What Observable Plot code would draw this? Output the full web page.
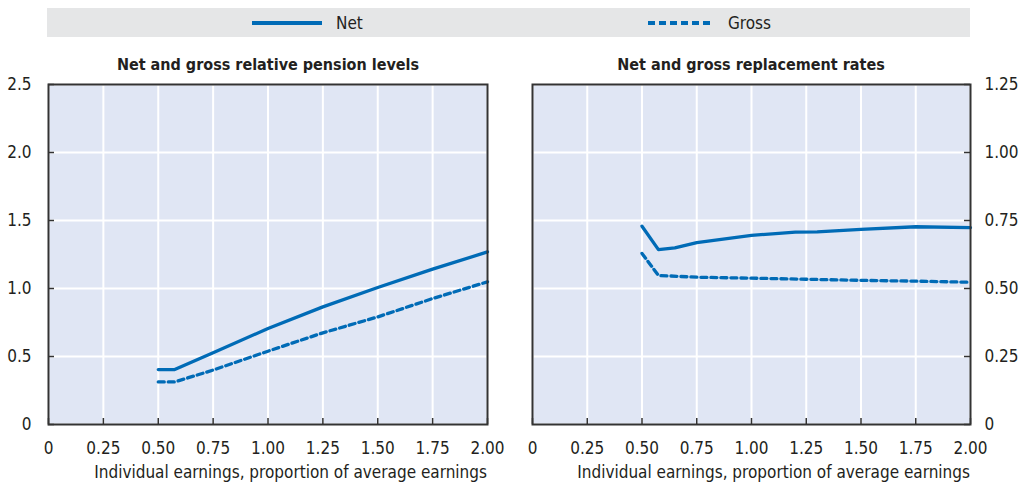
<!DOCTYPE html>
<html><head><meta charset="utf-8">
<script src="https://cdn.jsdelivr.net/npm/d3@7"></script>
<script src="https://cdn.jsdelivr.net/npm/@observablehq/plot@0.6"></script>
<style>
body{margin:0;width:1024px;height:487px;position:relative;background:#fff;overflow:hidden;
 font-family:"DejaVu Sans Condensed","Liberation Sans",sans-serif;color:#231f20}
#legend{position:absolute;left:47px;top:8px;width:923px;height:29px;background:#e5e6e7}
.item{position:absolute;top:0;height:29px;display:flex;align-items:center;font-size:17px}
.item svg{margin-right:14px}
.title{position:absolute;top:55px;width:440px;text-align:center;font-weight:bold;font-size:16px}
.xlabel{position:absolute;top:462px;font-size:17px;line-height:20px;text-align:right;width:440px}
.panel{position:absolute;top:74px}
</style></head>
<body>
<div id="legend">
  <div class="item" style="left:205px"><svg width="70" height="6"><line x1="0" y1="3" x2="70" y2="3" stroke="#006bb6" stroke-width="4"/></svg>Net</div>
  <div class="item" style="left:601px"><svg width="66" height="6"><line x1="0" y1="3" x2="66" y2="3" stroke="#006bb6" stroke-width="4" stroke-dasharray="7,4"/></svg>Gross</div>
</div>
<div class="title" style="left:48px">Net and gross relative pension levels</div>
<div class="title" style="left:531px">Net and gross replacement rates</div>
<div class="panel" id="p1" style="left:0px"></div>
<div class="panel" id="p2" style="left:512px"></div>
<div class="xlabel" style="left:47px">Individual earnings, proportion of average earnings</div>
<div class="xlabel" style="left:530px">Individual earnings, proportion of average earnings</div>
<script>
const xTicks = [0, 0.25, 0.5, 0.75, 1.0, 1.25, 1.5, 1.75, 2.0];
const levelTicks = [0, 0.5, 1.0, 1.5, 2.0, 2.5];
const rateTicks = [0, 0.25, 0.5, 0.75, 1.0, 1.25];

// Net and gross relative pension levels
const levelX = [0.5, 0.575, 0.75, 1.0, 1.25, 1.5, 1.75, 2.0];
const netLevel = [0.404, 0.404, 0.527, 0.706, 0.865, 1.007, 1.142, 1.269];
const grossLevel = [0.313, 0.313, 0.40, 0.539, 0.674, 0.791, 0.926, 1.049];

// Net and gross replacement rates
const netRateX = [0.5, 0.575, 0.65, 0.75, 1.0, 1.125, 1.2, 1.3, 1.5, 1.75, 2.0];
const netRate = [0.729, 0.643, 0.649, 0.669, 0.695, 0.703, 0.707, 0.708, 0.717, 0.727, 0.724];
const grossRateX = [0.5, 0.575, 0.75, 1.0, 1.25, 1.5, 1.75, 2.0];
const grossRate = [0.629, 0.548, 0.5415, 0.538, 0.534, 0.530, 0.527, 0.523];

const COLOR = "#006bb6";
const FONT = '"DejaVu Sans Condensed","Liberation Sans",sans-serif';

function toRows(xs, ys) { return xs.map((x, i) => ({x, y: ys[i]})); }

function panel({net, gross, yTicks, yMax, yFmt, side, ml, mr}) {
  const W = 512, H = 413, MT = 10, MB = 63;
  const plotH = H - MT - MB, plotW = W - ml - mr;
  return Plot.plot({
    width: W, height: H, marginTop: MT, marginBottom: MB, marginLeft: ml, marginRight: mr,
    style: {fontSize: "17px", fontFamily: FONT, color: "#231f20", background: "transparent", overflow: "visible"},
    x: {domain: [0, 2]},
    y: {domain: [0, yMax]},
    marks: [
      Plot.frame({fill: "#e0e6f4", stroke: null}),
      Plot.gridX(xTicks, {stroke: "white", strokeOpacity: 1, strokeWidth: 2}),
      Plot.gridY(yTicks, {stroke: "white", strokeOpacity: 1, strokeWidth: 2}),
      Plot.tickX(xTicks, {x: d => d, insetTop: plotH - 6, stroke: "#333", strokeWidth: 1.5}),
      Plot.tickY(yTicks, side === "left"
        ? {y: d => d, insetRight: plotW - 6, stroke: "#333", strokeWidth: 1.5}
        : {y: d => d, insetLeft: plotW - 6, stroke: "#333", strokeWidth: 1.5}),
      Plot.line(gross, {x: "x", y: "y", stroke: COLOR, strokeWidth: 3.3, strokeDasharray: "6,4"}),
      Plot.line(net, {x: "x", y: "y", stroke: COLOR, strokeWidth: 3.3}),
      Plot.frame({stroke: "#333", strokeWidth: 2}),
      Plot.axisX(xTicks, {tickSize: 0, tickPadding: 17, tickFormat: d => d === 0 ? "0" : d.toFixed(2), label: null}),
      Plot.axisY(yTicks, {anchor: side, tickSize: 0, tickPadding: side === "left" ? 17 : 14,
        tickFormat: yFmt, label: null})
    ]
  });
}

document.getElementById("p1").append(panel({
  net: toRows(levelX, netLevel), gross: toRows(levelX, grossLevel),
  yTicks: levelTicks, yMax: 2.5, yFmt: d => d === 0 ? "0" : d.toFixed(1),
  side: "left", ml: 48, mr: 25
}));
document.getElementById("p2").append(panel({
  net: toRows(netRateX, netRate), gross: toRows(grossRateX, grossRate),
  yTicks: rateTicks, yMax: 1.25, yFmt: d => d === 0 ? "0" : d.toFixed(2),
  side: "right", ml: 20, mr: 54
}));
</script>
</body></html>
